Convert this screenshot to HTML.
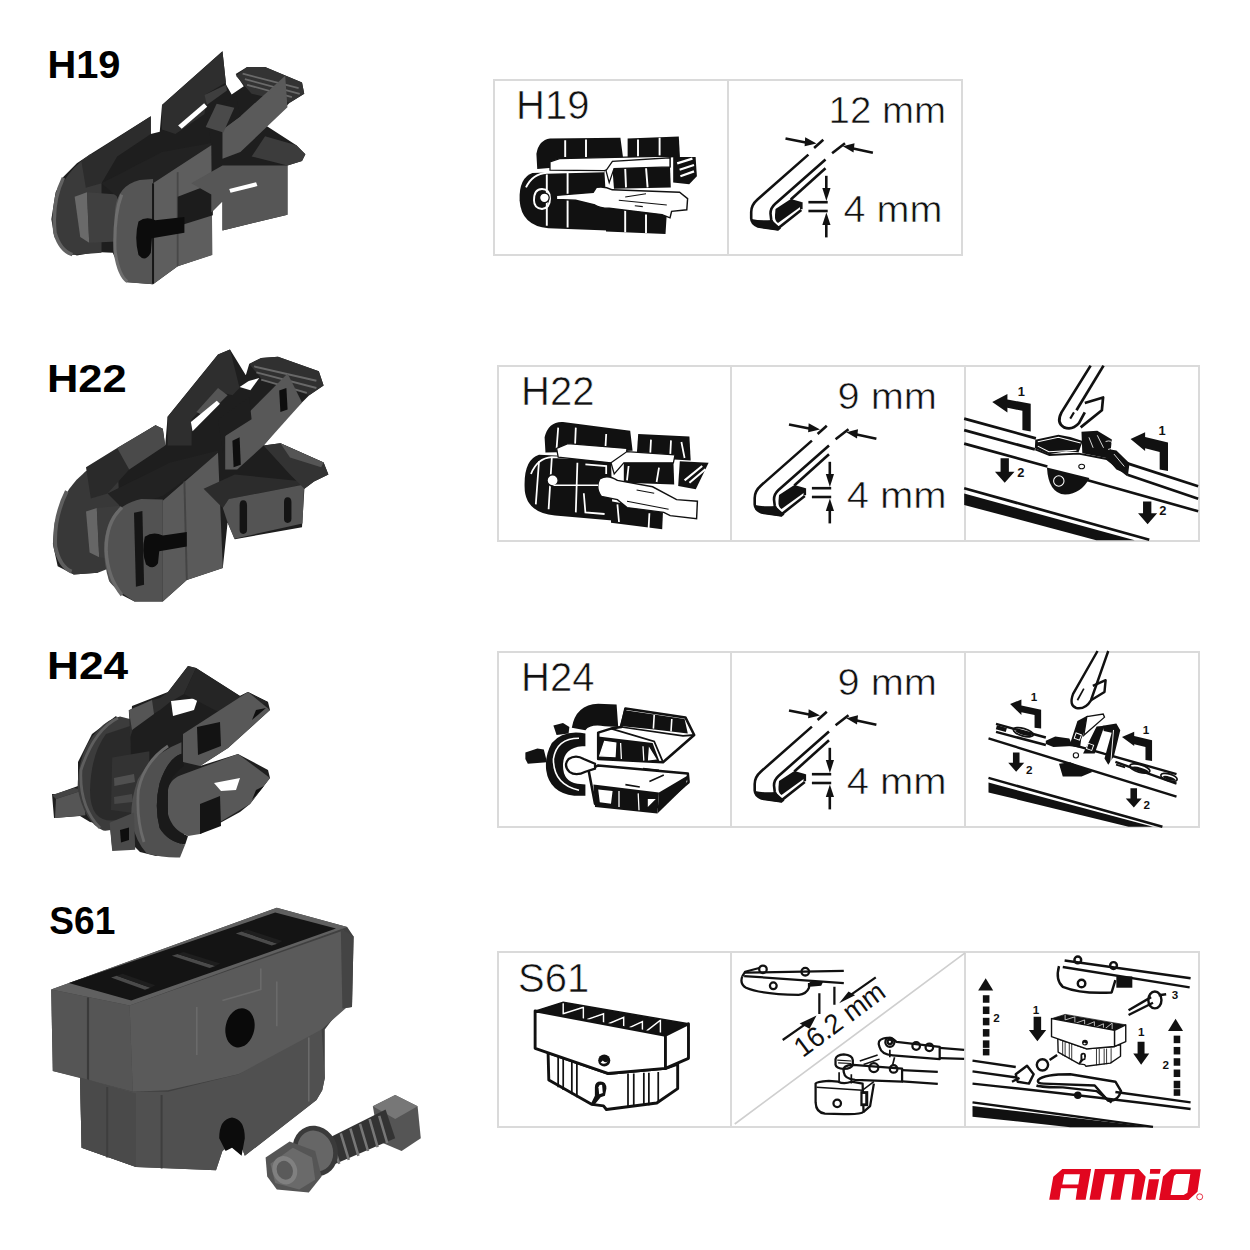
<!DOCTYPE html>
<html><head><meta charset="utf-8">
<style>
html,body{margin:0;padding:0;background:#fff;width:1250px;height:1250px;overflow:hidden}
svg{position:absolute;left:0;top:0;display:block}
text{font-family:"Liberation Sans",sans-serif}
.lbl{font-weight:bold;font-size:39px;fill:#000}
.bt{font-size:40px;fill:#111;stroke:#fff;stroke-width:0.6px}
.mm{font-size:36px;fill:#111;stroke:#fff;stroke-width:0.6px}
.box{fill:none;stroke:#dadada;stroke-width:2}
.ln{fill:none;stroke:#111;stroke-width:2.6;stroke-linecap:butt}
.blk{fill:#111}
</style></head><body>
<svg width="1250" height="1250" viewBox="0 0 1250 1250">
<defs>
<g id="blade">
  <line class="ln" x1="785.5" y1="138.4" x2="807" y2="142.8"/>
  <polygon class="blk" points="805.2,137.3 816.5,143.4 804.6,146.3"/>
  <line class="ln" x1="814.1" y1="148" x2="823.3" y2="139.7"/>
  <line class="ln" x1="832.1" y1="153.3" x2="845" y2="143.2"/>
  <line class="ln" x1="872.9" y1="152.8" x2="852" y2="148.2"/>
  <polygon class="blk" points="854.5,143.2 842.8,146.3 853.5,152.5"/>
  <path class="ln" d="M808.4,154.6 L757.5,199.5 Q751.2,205 751.2,212 L751.2,218.5 Q751.5,224 758,226.5 L778.5,229.5"/>
  <path class="blk" d="M751.5,219 Q752,225 759,227.5 L778.5,230.5 L781,228.5 L771.8,220 Q760,221 751.5,219 Z"/>
  <path class="ln" d="M825.5,159.5 L775,204 Q770.5,208 770.5,213.5 L771.2,219.5 Q773,226.5 779,227.5 L801.3,210"/>
  <line class="ln" x1="825.5" y1="168.3" x2="790.8" y2="199.5"/>
  <path class="blk" d="M775.5,209 L790.8,199 L801.5,202 L801.5,206 L778,223 Q774.5,221 775,215 Z"/>
  <path class="ln" d="M801.3,202.2 L801.3,209.2"/>
  <line class="ln" x1="826.3" y1="175.8" x2="826.3" y2="190"/>
  <polygon class="blk" points="822.3,188 830.5,188 826.4,201"/>
  <line class="ln" x1="808.4" y1="202.2" x2="827.7" y2="202.2"/>
  <line class="ln" x1="808.4" y1="211" x2="827.7" y2="211"/>
  <polygon class="blk" points="822.3,225 830.5,225 826.4,212.5"/>
  <line class="ln" x1="826.3" y1="223" x2="826.3" y2="237.4"/>
</g>
<!-- S61 drawing -->
<g id="s61d">
  <path fill="#111" d="M110,110 L300,50 L440,75 L960,165 L1170,200 L1010,280 L300,175 Z"/>
  <g fill="none" stroke="#fff" stroke-width="10">
    <path d="M300,55 L300,130 L440,85 L440,175 M440,180 L580,130 L580,210 M590,210 L720,155 L720,240 M730,240 L850,185 L850,270 M860,265 L975,175 L975,260"/>
  </g>
  <g fill="#fff" stroke="#111" stroke-width="20" stroke-linejoin="round">
    <path d="M195,400 L200,590 L500,760 L580,770 L600,795 L950,750 L1095,650 L1095,480 L1010,510 L610,545 L195,400 Z"/>
    <path d="M105,110 L1010,280 L1010,510 L610,545 L105,370 Z"/>
    <path d="M1010,280 L1170,200 L1170,440 L1010,510 Z"/>
  </g>
  <path fill="none" stroke="#111" stroke-width="10" d="M110,110 L300,50 L1170,200"/>
  <g fill="none" stroke="#111" stroke-width="12">
    <path d="M265,430 L265,640 M300,440 L300,660 M360,460 L360,690 M395,470 L395,710"/>
    <path d="M750,545 L750,780 M790,545 L790,775 M860,540 L860,770 M895,540 L895,765 M960,535 L960,750"/>
  </g>
  <circle cx="585" cy="455" r="42" fill="#111"/>
  <path fill="#fff" d="M560,470 Q590,490 610,460 Q590,475 575,455 Z"/>
  <path fill="#111" d="M520,640 Q520,600 560,600 Q600,600 600,650 L590,700 L560,710 L510,770 L490,760 L520,700 Z"/>
  <path fill="#fff" d="M545,640 Q550,620 570,625 L575,680 L550,690 Z"/>
</g>
</defs>
<!-- labels -->
<text class="lbl" x="47.4" y="78" textLength="73" lengthAdjust="spacingAndGlyphs">H19</text>
<text class="lbl" x="47" y="392" textLength="79.7" lengthAdjust="spacingAndGlyphs">H22</text>
<text class="lbl" x="47" y="679" textLength="81.1" lengthAdjust="spacingAndGlyphs">H24</text>
<text class="lbl" x="49.3" y="934" textLength="66" lengthAdjust="spacingAndGlyphs">S61</text>

<!-- boxes -->
<g class="box">
<rect x="494" y="80" width="468" height="175"/>
<line x1="728" y1="80" x2="728" y2="255"/>
<rect x="498" y="366" width="701" height="175"/>
<line x1="731" y1="366" x2="731" y2="541"/>
<line x1="965" y1="366" x2="965" y2="541"/>
<rect x="498" y="652" width="701" height="175"/>
<line x1="731" y1="652" x2="731" y2="827"/>
<line x1="965" y1="652" x2="965" y2="827"/>
<rect x="498" y="952" width="701" height="175"/>
<line x1="731" y1="952" x2="731" y2="1127"/>
<line x1="965" y1="952" x2="965" y2="1127"/>
</g>

<!-- box texts -->
<text class="bt" x="516" y="119">H19</text>
<text class="bt" x="521" y="405">H22</text>
<text class="bt" x="521" y="691">H24</text>
<text class="bt" x="518" y="992">S61</text>
<text class="mm" x="828.5" y="123" textLength="117.5" lengthAdjust="spacingAndGlyphs">12 mm</text>
<text class="mm" x="837.5" y="409" textLength="99.5" lengthAdjust="spacingAndGlyphs">9 mm</text>
<text class="mm" x="837.5" y="695" textLength="99.5" lengthAdjust="spacingAndGlyphs">9 mm</text>
<text class="mm" x="843.5" y="222" textLength="99" lengthAdjust="spacingAndGlyphs">4 mm</text>
<text class="mm" x="846.7" y="508" textLength="100" lengthAdjust="spacingAndGlyphs">4 mm</text>
<text class="mm" x="846.7" y="794" textLength="100" lengthAdjust="spacingAndGlyphs">4 mm</text>

<use href="#blade"/>
<use href="#blade" transform="translate(3.5,286)"/>
<use href="#blade" transform="translate(3.5,572)"/>

<!-- CELLS -->
<!-- H22 cell3: zoom origin 960,350 scale 4.808 -->
<g transform="translate(960,350) scale(0.208)">
  <g fill="none" stroke="#111" stroke-width="13" stroke-linejoin="round">
    <!-- arm -->
    <path d="M628,75 L488,300 Q462,350 500,372 Q540,388 572,352 L600,300"/>
    <path d="M690,75 L560,290"/>
    <path d="M530,330 L548,300" stroke-width="10"/>
    <path d="M600,255 L688,228 L682,290 L580,372" />
    <!-- blade lines -->
    <path d="M20,330 L365,425"/>
    <path d="M805,545 L1145,655"/>
    <path d="M20,385 L360,478"/>
    <path d="M805,600 L1145,715"/>
    <path d="M20,450 L420,560"/>
    <path d="M610,625 L1145,775"/>
    <path d="M20,665 L910,912"/>
  </g>
  <polygon fill="#111" points="20,690 840,915 655,915 20,745"/>
  <!-- adapter -->
  <path fill="#111" d="M362,432 L473,407 L530,418 L590,437 L570,492 L510,487 L427,501 L360,472 Z"/>
  <path fill="none" stroke="#fff" stroke-width="5" d="M374,441 L473,420 L580,447 M374,462 L427,489 L560,482"/>
  <path fill="#111" d="M584,393 L660,388 L730,430 L725,478 L752,483 L815,545 L808,598 L752,575 L704,519 L588,496 Z"/>
  <path fill="none" stroke="#fff" stroke-width="4" d="M620,420 L640,470 M660,410 L690,470 M700,440 Q730,430 735,455 Q735,475 712,478 M740,500 L790,560"/>
  <path fill="none" stroke="#111" stroke-width="9" d="M362,478 L430,505 L570,498 L705,524 L805,602"/>
  <path fill="#111" d="M418,565 Q425,690 505,695 Q585,690 622,615 Z"/>
  <circle cx="475" cy="630" r="25" fill="none" stroke="#fff" stroke-width="5"/>
  <ellipse cx="585" cy="560" rx="14" ry="11" fill="#fff" stroke="#111" stroke-width="5"/>
  <!-- arrows -->
  <g fill="#111">
    <polygon points="155,250 228,212 228,238 340,258 340,392 300,385 300,292 228,278 228,300"/>
    <polygon points="195,520 235,520 235,585 262,585 215,638 168,585 195,585"/>
    <polygon points="820,428 890,395 890,418 1000,445 1000,582 960,575 960,490 890,472 890,485"/>
    <polygon points="880,728 920,728 920,785 948,785 902,838 856,785 880,785"/>
  </g>
  <g font-family="Liberation Sans" font-weight="bold" font-size="62" fill="#111">
    <text x="278" y="220">1</text>
    <text x="275" y="610">2</text>
    <text x="955" y="410">1</text>
    <text x="958" y="795">2</text>
  </g>
</g>

<!-- H24 cell3: zoom origin 965,651 scale 5.319 -->
<g transform="translate(965,651) scale(0.188)">
  <g fill="none" stroke="#111" stroke-width="13" stroke-linejoin="round">
    <path d="M705,0 L575,228 Q552,290 592,303 Q640,312 670,262 L762,0"/>
    <path d="M598,262 L632,200" stroke-width="9"/>
    <path d="M670,262 L742,218 L748,155 L680,185"/>
    <path d="M165,388 L430,460 M560,495 L1125,655"/>
    <path d="M165,430 L430,500 M800,590 L1125,705"/>
    <path d="M125,465 L1125,775"/>
    <path d="M125,675 L1050,935"/>
  </g>
  <g fill="none" stroke="#111" stroke-width="9">
    <ellipse cx="310" cy="432" rx="55" ry="20" transform="rotate(16 310 432)"/>
    <ellipse cx="930" cy="625" rx="55" ry="20" transform="rotate(16 930 625)"/>
    <ellipse cx="1085" cy="672" rx="45" ry="18" transform="rotate(16 1085 672)"/>
  </g>
  <g fill="#111">
    <ellipse cx="312" cy="437" rx="45" ry="10" transform="rotate(16 312 437)"/>
    <ellipse cx="932" cy="630" rx="45" ry="10" transform="rotate(16 932 630)"/>
    <ellipse cx="1087" cy="677" rx="35" ry="9" transform="rotate(16 1087 677)"/>
    <rect x="170" y="395" width="55" height="22" transform="rotate(16 170 395)"/>
    <rect x="805" y="600" width="50" height="10" transform="rotate(16 805 600)"/>
    <polygon points="125,700 1000,935 870,935 125,752"/>
    <!-- adapter -->
    <path d="M430,478 L480,455 L555,465 L572,505 L470,510 L430,495 Z"/>
    <path d="M555,505 L598,372 L650,345 L690,352 L650,390 L618,470 L612,515 Z"/>
    <path d="M628,545 L700,402 L742,398 L690,545 Z"/>
    <path d="M732,398 L805,386 L826,422 L792,560 L762,605 L742,572 L780,435 L738,425 Z"/>
    <path d="M500,600 L560,592 L640,628 L680,642 L620,668 L520,668 Z"/>
    <polygon points="240,282 300,258 300,290 405,312 405,412 370,408 370,340 300,326 300,340"/>
    <polygon points="255,540 290,540 290,595 315,595 272,642 230,595 255,595"/>
    <polygon points="835,458 900,430 900,452 995,475 995,585 960,580 960,510 900,496 900,505"/>
    <polygon points="880,730 915,730 915,785 940,785 898,832 855,785 880,785"/>
  </g>
  <path fill="#fff" stroke="#111" stroke-width="7" d="M648,349 L735,335 L742,352 L632,448 Z"/>
  <g fill="none" stroke="#fff" stroke-width="5">
    <rect x="585" y="440" width="30" height="30" transform="rotate(20 600 455)"/>
    <rect x="650" y="495" width="30" height="30" transform="rotate(20 665 510)"/>
    <path d="M760,440 L745,540 M775,600 L790,420"/>
  </g>
  <circle cx="590" cy="555" r="14" fill="#fff" stroke="#111" stroke-width="6"/>
  <g font-family="Liberation Sans" font-weight="bold" font-size="62" fill="#111">
    <text x="350" y="265">1</text>
    <text x="325" y="655">2</text>
    <text x="945" y="440">1</text>
    <text x="950" y="840">2</text>
  </g>
</g>

<!-- S61 cell2: zoom origin 731,952 scale 5.319 -->
<g transform="translate(731,952) scale(0.188)">
  <line x1="20" y1="915" x2="1245" y2="5" stroke="#cfcfcf" stroke-width="9"/>
  <g fill="none" stroke="#111" stroke-width="12" stroke-linejoin="round">
    <path d="M70,110 L600,100"/>
    <path d="M70,128 L600,165"/>
    <path d="M60,130 Q45,170 80,190 Q160,225 360,228 Q400,225 415,190 L415,165"/>
    <path d="M60,130 L75,105 L150,85"/>
    <circle cx="170" cy="92" r="20"/>
    <circle cx="395" cy="105" r="20"/>
    <circle cx="225" cy="180" r="18"/>
    <path d="M470,220 L470,330 M550,185 L550,280"/>
    <path d="M275,468 L430,360 M770,135 L620,240"/>
    <!-- lower linkage -->
    <path d="M790,505 Q775,470 810,460 Q850,450 880,478 L1110,505 L1110,570 L860,550 Q800,545 790,505 Z"/>
    <path d="M1110,510 L1240,520 M1110,565 L1240,568"/>
    <circle cx="845" cy="480" r="24"/>
    <circle cx="845" cy="478" r="12"/>
    <circle cx="985" cy="500" r="20"/>
    <circle cx="1055" cy="507" r="20"/>
    <path d="M845,520 L845,560 M870,560 L860,600" stroke-width="9"/>
    <path d="M600,640 Q590,600 650,600 L910,620 L910,690 L660,680 Q605,675 600,640 Z"/>
    <path d="M910,628 L1100,638 M910,688 L1100,702"/>
    <circle cx="760" cy="615" r="24"/>
    <circle cx="865" cy="622" r="20"/>
    <path d="M685,580 L780,548 M705,598 L790,570" stroke-width="8"/>
    <path d="M556,600 L556,570 Q560,548 600,545 Q645,548 648,575 L648,600 Q640,620 600,622 Q560,620 556,600 Z"/>
    <path d="M575,640 L575,690 M640,650 L640,700" stroke-width="9"/>
    <path d="M450,700 Q455,690 520,685 L570,690 Q600,705 640,690 L700,700 L705,850 Q690,865 600,862 L500,860 Q452,855 450,800 Z"/>
    <path d="M455,720 L700,735 L760,690" stroke-width="8"/>
    <path d="M705,850 L740,820 L760,700"/>
    <circle cx="565" cy="805" r="20"/>
  </g>
  <path fill="none" stroke="#111" stroke-width="6" d="M565,575 L640,580 M570,590 L640,593"/>
  <rect x="688" y="740" width="42" height="80" fill="#111"/>
  <rect x="700" y="755" width="14" height="50" fill="#fff"/>
  <polygon fill="#111" points="365,380 455,338 418,408"/>
  <polygon fill="#111" points="575,272 660,230 625,210"/>
  <path fill="#111" d="M418,160 L490,158 L480,180 L420,185 Z"/>
  <text x="0" y="0" font-family="Liberation Sans" font-size="148" fill="#111" transform="translate(382,565) rotate(-36.5)" textLength="560" lengthAdjust="spacingAndGlyphs">16.2 mm</text>
</g>

<!-- S61 cell3: zoom origin 965,952 scale 5.319 -->
<g transform="translate(965,952) scale(0.188)">
  <g fill="none" stroke="#111" stroke-width="13" stroke-linejoin="round">
    <path d="M530,45 L1200,140"/>
    <path d="M520,80 L1195,188"/>
    <path d="M500,75 Q480,150 520,185 Q620,225 780,215 L800,150"/>
    <circle cx="600" cy="42" r="18"/>
    <circle cx="790" cy="72" r="18"/>
    <circle cx="620" cy="168" r="20"/>
    <!-- blade -->
    <path d="M40,578 L270,612"/>
    <path d="M40,635 L275,668"/>
    <path d="M40,700 Q600,760 1200,835"/>
    <path d="M40,800 L1000,930"/>
    <path d="M800,745 L1200,800"/>
    <!-- screw -->
    <path d="M870,335 L1000,270 M870,310 L990,240"/>
    <ellipse cx="1010" cy="255" rx="35" ry="45"/>
    <path d="M1030,230 L1070,225"/>
    <!-- washer/nut -->
    <circle cx="412" cy="600" r="30"/>
    <path d="M270,650 L330,605 L365,650 L340,700 L280,690 Z"/>
    <path d="M250,690 L290,670 M450,575 L490,548"/>
    <!-- clip -->
    <path d="M390,680 Q420,650 560,650 L800,690 L830,740 Q810,800 760,790 L690,710 L420,700 Q380,700 390,680 Z"/>
    <path d="M380,710 Q410,720 520,720 L700,740 L780,800"/>
  </g>
  <polygon fill="#111" points="40,819 1000,932 560,932 40,876"/>
  <g fill="#111">
    <circle cx="600" cy="762" r="20"/>
    <polygon points="70,205 110,140 150,205"/>
    <rect x="95" y="230" width="35" height="40"/>
    <rect x="95" y="290" width="35" height="40"/>
    <rect x="95" y="350" width="35" height="40"/>
    <rect x="95" y="410" width="35" height="40"/>
    <rect x="95" y="470" width="35" height="40"/>
    <rect x="95" y="515" width="35" height="35"/>
    <polygon points="1080,420 1120,355 1160,420"/>
    <rect x="1110" y="445" width="35" height="40"/>
    <rect x="1110" y="505" width="35" height="40"/>
    <rect x="1110" y="565" width="35" height="40"/>
    <rect x="1110" y="625" width="35" height="40"/>
    <rect x="1110" y="685" width="35" height="40"/>
    <rect x="1110" y="730" width="35" height="35"/>
    <polygon points="365,345 405,345 405,415 432,415 385,475 340,415 365,415"/>
    <polygon points="918,478 955,478 955,540 980,540 937,600 895,540 918,540"/>
    <rect x="805" y="130" width="85" height="60"/>
  </g>
  <g font-family="Liberation Sans" font-weight="bold" font-size="62" fill="#111">
    <text x="360" y="330">1</text>
    <text x="150" y="370">2</text>
    <text x="920" y="445">1</text>
    <text x="1050" y="620">2</text>
    <text x="1100" y="250">3</text>
  </g>
</g>
<!-- H19 cell1: zoom origin 510,125 scale 6.25 -->
<g transform="translate(510,125) scale(0.16)">
  <g fill="#111">
    <path d="M170,270 L165,180 Q180,95 250,85 L690,80 L710,230 L170,275 Z"/>
    <path d="M735,85 L1055,72 L1062,200 L735,215 Z"/>
    <path d="M60,470 Q55,330 140,300 L590,285 L610,660 L240,645 Q70,630 60,470 Z"/>
    <path d="M640,270 L1000,258 L1005,390 L650,398 Z"/>
    <path d="M600,500 L980,550 L972,682 L600,665 Z"/>
    <path d="M1020,200 L1160,200 L1168,320 L1120,370 L1020,360 Z"/>
  </g>
  <g fill="none" stroke="#fff" stroke-width="12">
    <path d="M345,95 L345,200 M475,90 L475,200 M800,90 L800,200 M935,80 L935,190"/>
    <path d="M230,310 L230,630 M360,300 L360,640 M720,270 L725,390 M850,265 L860,390 M720,520 L720,670 M850,560 L850,675"/>
    <path d="M100,390 Q140,305 230,298 L590,290"/>
    <path d="M1045,240 L1140,210 M1060,280 L1150,250 M1065,320 L1150,290" stroke-width="14"/>
  </g>
  <!-- white rail -->
  <path fill="#fff" stroke="#111" stroke-width="8" d="M250,230 L310,210 L1000,195 L1000,262 L640,268 L590,285 L250,282 Z"/>
  <path fill="#fff" stroke="#111" stroke-width="8" d="M600,285 L640,228 L1000,205 L1000,262 L650,272 L620,360 Z"/>
  <!-- slider -->
  <path fill="#fff" stroke="#111" stroke-width="9" d="M290,440 L520,420 L540,390 Q590,380 640,405 L1060,420 L1110,460 L1105,530 L1010,540 L1000,580 L950,560 L620,520 Q560,520 530,500 L410,470 L290,465 Z"/>
  <path fill="none" stroke="#111" stroke-width="7" d="M680,470 L980,500 M720,450 L850,430 M780,505 L830,510"/>
  <path fill="none" stroke="#fff" stroke-width="12" d="M150,470 Q150,400 200,400 Q250,400 250,460 Q250,520 200,525 Q150,520 150,470 Z"/>
  <circle cx="215" cy="455" r="30" fill="#fff" stroke="#111" stroke-width="8"/>
</g>

<!-- H22 cell1: zoom origin 515,410 scale 6.25 -->
<g transform="translate(515,410) scale(0.16)">
  <g fill="#111">
    <path d="M190,260 L185,170 Q210,70 300,75 L720,130 L735,255 L190,265 Z"/>
    <path d="M770,150 L1090,165 L1098,315 L760,295 Z"/>
    <path d="M60,480 Q55,310 150,280 L600,300 L610,690 L250,660 Q60,640 60,480 Z"/>
    <path d="M680,320 L990,315 L995,465 L680,455 Z"/>
    <path d="M600,570 L925,630 L920,745 L600,705 Z"/>
    <path d="M1030,320 L1210,330 L1130,495 L1020,475 Z"/>
  </g>
  <g fill="none" stroke="#fff" stroke-width="11">
    <path d="M270,110 L260,240 M380,110 L375,230 M570,150 L565,240 M850,185 L845,280 M975,190 L970,290 M1040,200 L1060,300"/>
    <path d="M150,320 L130,590 M230,300 L210,620 M390,330 L380,640 M710,350 L700,440 M900,360 L885,450"/>
    <path d="M440,340 L570,350 L570,400 M430,520 L440,640 L560,650"/>
    <path d="M640,590 L650,700 M840,645 L835,740"/>
    <path d="M100,400 Q140,300 230,295 L600,310"/>
    <path d="M1060,440 L1170,350 M1090,455 L1190,370" stroke-width="13"/>
  </g>
  <path fill="#fff" stroke="#111" stroke-width="8" d="M260,240 L330,210 L700,240 L690,325 L600,330 L270,295 Z"/>
  <path fill="#fff" stroke="#111" stroke-width="8" d="M600,330 L700,260 L1000,280 L990,330 L680,330 L620,400 Z"/>
  <path fill="#fff" stroke="#111" stroke-width="9" d="M530,430 Q580,400 640,440 L860,480 L1010,560 L1140,570 L1135,680 L970,660 L930,640 L700,610 L640,560 L540,540 Q500,490 530,430 Z"/>
  <path fill="none" stroke="#111" stroke-width="7" d="M760,500 L870,520 M700,570 L960,620"/>
  <circle cx="235" cy="440" r="35" fill="#fff" stroke="#111" stroke-width="9"/>
  <path fill="none" stroke="#fff" stroke-width="9" d="M240,470 L520,470"/>
</g>

<!-- H24 cell1: zoom origin 515,695 scale 6.25 -->
<g transform="translate(515,695) scale(0.16)">
  <g fill="#111">
    <path d="M355,205 Q380,60 520,55 L635,60 L645,200 L560,195 Q470,180 440,220 Z"/>
    <path d="M65,360 L140,335 L180,340 L200,420 L80,430 L65,400 Z"/>
    <path d="M240,190 L300,175 L340,200 L335,240 L260,250 Z"/>
  </g>
  <!-- upper deck -->
  <path fill="#fff" stroke="#111" stroke-width="16" stroke-linejoin="round" d="M520,235 L600,210 L665,200 L690,85 L1065,140 L1120,250 L925,420 L520,400 Z"/>
  <path fill="none" stroke="#111" stroke-width="11" d="M665,200 L1050,255 L1120,250 M690,85 L660,195 M870,125 L865,210 M980,150 L975,230 M600,210 L870,290 L925,420"/>
  <path fill="#111" d="M690,95 L1060,150 L1080,240 L870,215 L670,195 Z"/>
  <path fill="none" stroke="#fff" stroke-width="10" d="M870,125 L865,210 M980,150 L975,230"/>
  <g fill="#111">
    <path d="M520,260 L860,300 L905,420 L520,400 Z"/>
  </g>
  <path fill="#fff" stroke="#fff" stroke-width="8" d="M530,380 L560,290 L630,300 L625,385 Z M840,335 L880,400 L835,405 Z"/>
  <path fill="none" stroke="#fff" stroke-width="8" d="M660,300 L665,400 M800,320 L805,410"/>
  <!-- lower deck -->
  <path fill="#fff" stroke="#111" stroke-width="16" stroke-linejoin="round" d="M460,470 L520,440 L1080,490 L1085,545 L900,700 L500,680 Z"/>
  <path fill="#111" d="M490,560 L900,610 L890,740 L500,700 Z"/>
  <path fill="#111" d="M900,610 L1085,500 L1060,575 L890,740 Z"/>
  <path fill="#fff" d="M520,590 L610,600 L600,680 L530,670 Z M830,650 L880,650 L830,700 Z"/>
  <path fill="none" stroke="#fff" stroke-width="8" d="M650,600 L650,700 M770,615 L775,720"/>
  <path fill="none" stroke="#111" stroke-width="10" d="M800,460 L900,470 M690,560 L780,575 M840,540 L930,500"/>
  <!-- C ring -->
  <path fill="#111" d="M440,240 Q300,215 230,300 Q185,380 195,470 Q215,610 370,630 L440,630 L440,560 L390,555 Q300,540 300,440 Q300,330 420,320 L440,320 Z"/>
  <path fill="none" stroke="#fff" stroke-width="10" d="M400,270 Q260,270 240,400 Q240,560 400,595"/>
  <path fill="#fff" stroke="#111" stroke-width="14" d="M430,400 Q380,370 335,400 Q300,440 340,480 Q380,510 440,480 L500,460 L500,430 Z"/>
</g>

<use href="#s61d" transform="translate(520,995) scale(0.144)"/>
<use href="#s61d" transform="translate(1044.2,1010.9) scale(0.0697)"/>
<!-- /CELLS -->
<!-- photos -->
<g id="ph19" transform="translate(50,40) scale(0.224)">
  <polygon fill="#1e1e1e" points="6,800 25,680 60,610 120,550 178,511 450,340 450,420 490,410 500,290 770,50 786,200 811,243 865,206 829,152 880,120 960,120 1125,190 1135,240 1070,280 1050,300 960,380 1100,470 1140,510 1125,540 1060,560 1060,780 770,850 770,720 720,770 720,960 570,1010 460,1090 340,1080 280,950 206,946 120,962 60,940 20,880"/>
  <path fill="#3a3a3a" d="M10,800 Q20,620 178,511 L230,500 L230,950 L100,960 Q20,920 10,800 Z"/>
  <path fill="none" stroke="#626262" stroke-width="16" d="M60,615 Q8,720 22,860 Q45,940 100,958"/>
  <polygon fill="#6a6a6a" points="110,700 165,680 175,905 135,880"/>
  <polygon fill="#404040" points="165,680 300,690 300,900 175,905"/>
  <polygon fill="#2c2c2c" points="140,540 450,340 450,420 300,520 230,640 160,660"/>
  <polygon fill="#222" points="230,640 500,500 720,460 720,480 460,640 300,700"/>
  <path fill="#555" d="M290,760 Q300,650 400,625 L460,620 L460,1090 L340,1082 Q285,1010 285,900 Z"/>
  <path fill="none" stroke="#6e6e6e" stroke-width="14" d="M320,690 Q285,780 290,940 Q305,1050 345,1078"/>
  <polygon fill="#5e5e5e" points="460,640 720,470 725,960 570,1010 460,1090"/>
  <path fill="none" stroke="#484848" stroke-width="8" d="M570,590 L570,1010"/>
  <polygon fill="#1c1c1c" points="570,700 727,640 727,782 570,832"/>
  <path fill="none" stroke="#161616" stroke-width="9" d="M460,640 L460,1088"/>
  <path fill="#0c0c0c" d="M395,810 Q375,880 395,960 Q425,995 450,950 L455,885 L600,860 L600,790 L470,805 Q430,785 395,810 Z"/>
  <polygon fill="#2e2e2e" points="500,290 770,50 785,190 700,240 690,330 560,420 500,400"/>
  <polygon fill="#fff" points="572,382 688,282 702,298 588,396"/>
  <polygon fill="#333" points="830,160 880,120 960,120 1125,190 1135,240 1070,280 900,240"/>
  <g stroke="#6a6a6a" stroke-width="8" fill="none"><path d="M860,150 L1110,215 M870,175 L1115,240 M880,200 L1080,255"/></g>
  <polygon fill="#5a5a5a" points="770,400 850,340 1050,160 1060,300 850,500 770,530"/>
  <polygon fill="#1e1e1e" points="700,330 830,250 850,340 770,400 720,470"/>
  <polygon fill="#4a4a4a" points="695,388 744,285 823,303 774,413"/>
  <polygon fill="#3e3e3e" points="690,245 786,200 790,225 700,290"/>
  <polygon fill="#565656" points="630,640 770,560 1060,560 1060,780 770,850 770,720 720,770 720,690"/>
  <polygon fill="#fff" points="800,665 920,635 926,652 806,682"/>
  <polygon fill="#3c3c3c" points="960,430 1100,470 1140,510 1125,540 1060,560 900,520"/>
</g>
<g id="ph22" transform="translate(50,340) scale(0.24)">
  <polygon fill="#1e1e1e" points="46,683 146,550 279,457 440,355 470,370 480,440 490,320 700,60 750,40 830,170 800,200 830,100 880,75 950,70 1120,130 1140,190 1080,230 1050,260 980,330 890,440 960,430 1140,510 1160,560 1100,590 1060,620 1050,780 770,830 740,760 720,950 570,1000 470,1090 352,1090 299,1063 246,1003 239,923 206,937 199,970 99,977 32,943 12,850 20,760"/>
  <path fill="#383838" d="M14,850 Q20,650 146,550 L279,457 L300,930 L199,970 L99,977 Q30,945 14,850 Z"/>
  <path fill="none" stroke="#5e5e5e" stroke-width="16" d="M70,630 Q15,740 22,860 Q40,945 90,965"/>
  <polygon fill="#666" points="150,715 195,700 205,905 165,885"/>
  <polygon fill="#3c3c3c" points="195,700 300,690 300,920 205,905"/>
  <polygon fill="#2a2a2a" points="150,530 280,450 440,355 480,440 330,540 240,640 170,660"/>
  <polygon fill="#4a4a4a" points="280,450 440,355 470,370 480,440 330,540"/>
  <polygon fill="#222" points="240,640 500,510 700,460 700,480 470,650 300,700"/>
  <path fill="#525252" d="M226,843 Q240,730 299,697 Q340,670 380,663 L470,665 L470,1090 L352,1090 Q260,1030 246,1003 Q222,930 226,843 Z"/>
  <path fill="none" stroke="#6a6a6a" stroke-width="14" d="M300,698 Q232,760 234,880 Q240,990 300,1063"/>
  <polygon fill="#5a5a5a" points="470,670 700,470 720,950 570,1000 470,1090"/>
  <path fill="none" stroke="#444" stroke-width="8" d="M560,590 L570,1000"/>
  <polygon fill="#151515" points="350,720 385,712 392,1020 358,1028"/>
  <path fill="#0c0c0c" d="M395,820 Q380,880 400,935 Q430,960 450,930 L455,880 L570,860 L570,800 L470,815 Q430,795 395,820 Z"/>
  <polygon fill="#2e2e2e" points="490,320 700,60 750,40 790,200 760,230 700,215 590,330 590,440 490,440"/>
  <polygon fill="#555" points="700,200 740,230 650,320 610,300"/>
  <polygon fill="#fff" points="587,342 695,253 708,266 594,380"/>
  <polygon fill="#fff" points="790,196 828,171 872,158 835,209"/>
  <polygon fill="#303030" points="830,100 880,75 950,70 1120,130 1140,190 1080,230 880,160"/>
  <g stroke="#686868" stroke-width="8" fill="none"><path d="M850,110 L1110,170 M860,135 L1110,200 M880,165 L1070,220"/></g>
  <polygon fill="#585858" points="730,400 990,140 1050,260 890,440 780,540 730,540"/>
  <polygon fill="#0e0e0e" points="955,210 985,200 990,290 960,300"/>
  <polygon fill="#0e0e0e" points="760,420 790,405 795,520 765,530"/>
  <polygon fill="#1e1e1e" points="700,330 830,240 840,330 730,400 720,470"/>
  <polygon fill="#2c2c2c" points="640,620 770,560 1060,590 1059,602 745,663 720,700"/>
  <polygon fill="#545454" points="745,663 1059,602 1052,765 768,828 740,760 720,700"/>
  <path fill="#141414" d="M790,690 Q790,668 805,668 Q821,668 821,690 L821,790 Q821,808 805,808 Q790,808 790,790 Z"/>
  <path fill="#141414" d="M975,675 Q975,655 990,655 Q1006,655 1006,675 L1006,745 Q1006,762 990,762 Q975,762 975,745 Z"/>
  <polygon fill="#333" points="890,440 960,430 1140,510 1160,560 1100,590 1060,620 1000,560"/>
  <polygon fill="#555" points="960,430 1140,510 1130,530 1000,490"/>
</g>

<g id="ph24" transform="translate(40,650) scale(0.2)">
  <polygon fill="#1e1e1e" points="60,720 70,840 200,830 250,860 350,880 360,980 450,960 500,1010 580,1030 700,1000 720,920 800,920 1000,810 1050,770 1150,640 1140,600 990,520 800,580 940,490 1150,300 1140,260 1040,210 1000,230 780,90 740,80 640,210 460,280 450,420 380,330 260,420 190,560 190,680 80,720"/>
  <polygon fill="#444" points="60,725 170,690 220,700 80,745"/>
  <polygon fill="#555" points="80,745 220,700 227,826 75,840"/>
  <path fill="#3c3c3c" d="M188,690 Q190,500 290,400 Q340,345 400,333 L450,345 L455,830 Q380,910 316,903 Q220,860 188,690 Z"/>
  <path fill="#2a2a2a" d="M250,700 Q255,520 330,420 L450,380 L455,830 Q330,880 280,820 Q250,780 250,700 Z"/>
  <path fill="none" stroke="#5e5e5e" stroke-width="14" d="M390,340 Q270,400 205,600 Q195,780 300,890"/>
  <polygon fill="#333" points="361,538 547,506 547,826 355,800"/>
  <polygon fill="#505050" points="370,640 470,620 475,660 372,680"/>
  <polygon fill="#484848" points="370,735 460,720 465,760 372,770"/>
  <polygon fill="#2e2e2e" points="444,301 560,250 600,240 640,210 740,80 780,90 720,220 650,260 600,300 470,380 451,436"/>
  <polygon fill="#555" points="444,301 560,250 570,320 460,400"/>
  <polygon fill="#fff" points="655,255 790,240 770,300 665,330"/>
  <polygon fill="#252525" points="780,90 1000,230 1040,210 1140,260 950,340 720,220"/>
  <polygon fill="#585858" points="715,420 1040,210 1150,300 940,490 800,580 715,560"/>
  <polygon fill="#131313" points="785,385 900,360 905,480 790,525"/>
  <polygon fill="#0e0e0e" points="1080,300 1130,290 1060,350"/>
  <path fill="#505050" d="M707,461 Q560,520 489,647 Q450,760 457,858 Q480,960 534,1018 Q620,1040 700,1037 L726,973 Q640,960 598,890 Q570,780 598,666 Q640,540 707,519 Z"/>
  <path fill="none" stroke="#6a6a6a" stroke-width="14" d="M640,480 Q520,560 492,700 Q480,840 520,960"/>
  <path fill="#1a1a1a" d="M707,519 Q640,540 598,666 Q570,780 598,890 Q640,960 726,973 L740,930 Q660,900 640,820 Q625,720 660,640 Q700,590 720,580 Z"/>
  <path fill="#585858" d="M640,700 Q650,640 720,620 L990,520 L1150,640 L1050,770 L800,920 L740,930 Q660,900 640,820 Z"/>
  <polygon fill="#fff" points="870,665 1000,640 980,700 905,705"/>
  <polygon fill="#141414" points="800,770 900,730 905,880 800,920"/>
  <polygon fill="#0e0e0e" points="1080,700 1120,680 1060,750"/>
  <polygon fill="#4a4a4a" points="348,864 470,813 476,999 361,1005"/>
  <polygon fill="#0e0e0e" points="400,900 445,888 445,950 405,962"/>
</g>

<g id="ph61" transform="translate(40,895) scale(0.32)">
  <polygon fill="#404040" points="35,295 740,40 960,100 980,130 975,350 940,355 890,420 890,572 882,610 864,641 640,815 620,760 570,800 550,860 300,850 130,790 125,570 40,550"/>
  <polygon fill="#606060" points="35,295 740,40 960,100 280,345"/>
  <polygon fill="#141414" points="90,275 735,55 925,105 285,330"/>
  <g fill="#4a4a4a"><polygon points="222,258 240,252 345,290 328,296"/><polygon points="412,190 430,184 548,222 530,228"/><polygon points="612,120 630,114 742,152 724,158"/></g>
  <g fill="#1e1e1e"><polygon points="240,252 345,290 360,282 258,246"/><polygon points="430,184 548,222 563,214 448,178"/><polygon points="630,114 742,152 757,144 648,108"/></g>
  <polygon fill="#555" points="35,295 280,345 290,615 40,550"/>
  <path fill="none" stroke="#3a3a3a" stroke-width="7" d="M150,320 L150,580"/>
  <polygon fill="#5a5a5a" points="280,345 950,110 960,350 880,420 820,475 620,560 400,610 290,615"/>
  <polygon fill="#444" points="940,105 980,130 975,350 945,355"/>
  <polygon fill="#505050" points="125,570 290,615 400,615 620,560 880,420 890,572 882,610 864,641 640,815 620,760 570,800 550,860 300,850 130,790"/>
  <polygon fill="#4a4a4a" points="125,570 300,620 300,850 130,790"/>
  <path fill="none" stroke="#3e3e3e" stroke-width="6" d="M210,600 L210,820 M380,625 L380,855"/>
  <path fill="none" stroke="#6a6a6a" stroke-width="5" d="M840,445 L840,645"/>
  <path fill="none" stroke="#6a6a6a" stroke-width="5" d="M570,330 L690,295 L690,230 M490,350 L490,500 M740,270 L740,410"/>
  <ellipse cx="625" cy="415" rx="45" ry="62" fill="#0a0a0a" transform="rotate(12 625 415)"/>
  <path fill="#0c0c0c" d="M560,760 Q560,700 600,695 Q640,700 640,760 L630,815 L600,790 L580,800 Z"/>
  <!-- bolt -->
  <polygon fill="#555" points="1040,660 1110,625 1180,660 1190,760 1130,800 1060,770"/>
  <polygon fill="#777" points="1040,660 1110,625 1180,660 1110,700"/>
  <polygon fill="#333" points="880,770 1080,670 1110,760 900,850"/>
  <g stroke="#777" stroke-width="8"><path d="M910,760 L935,840 M940,745 L965,828 M970,730 L995,815 M1000,715 L1025,800 M1030,700 L1055,788 M1060,690 L1085,775"/></g>
  <ellipse cx="860" cy="800" rx="70" ry="80" fill="#3a3a3a" transform="rotate(-20 860 800)"/>
  <ellipse cx="860" cy="800" rx="55" ry="65" fill="#666" transform="rotate(-20 860 800)"/>
  <polygon fill="#555" points="705,820 780,770 860,800 880,880 840,930 740,920 710,880"/>
  <polygon fill="#6a6a6a" points="720,840 790,790 850,820 860,890 810,920 735,900"/>
  <ellipse cx="765" cy="860" rx="38" ry="45" fill="#808080" transform="rotate(-20 765 860)"/>
  <ellipse cx="765" cy="860" rx="25" ry="30" fill="#5a5a5a" transform="rotate(-20 765 860)"/>
</g>

<!-- logo -->
<g fill="#e1061f">
<path fill-rule="evenodd" d="M1049.2,1199.8 L1053.3,1176.7 L1062.3,1169 L1091.1,1169 L1085.6,1199.8 L1075.7,1199.8 L1077.3,1188.2 L1061,1188.2 L1059.4,1199.8 Z M1064.2,1174.2 L1079.9,1174.2 L1078.3,1184.4 L1062.3,1184.4 Z"/>
<path d="M1094.9,1169 L1138.6,1169 L1145.7,1176.7 L1141.2,1199.8 L1131.3,1199.8 L1134.8,1174.2 L1124.9,1174.2 L1120.4,1199.8 L1110.5,1199.8 L1114.6,1174.2 L1105,1174.2 L1100.2,1199.8 L1089.5,1199.8 Z"/>
<path d="M1150.2,1169 L1160.7,1169 L1159.8,1173.8 L1149.8,1173.8 Z M1148.9,1179.3 L1159.1,1179.3 L1155.3,1199.8 L1145.7,1199.8 Z"/>
<path fill-rule="evenodd" d="M1163,1176.4 L1171.1,1169.2 L1200.9,1169.2 L1197.5,1191.8 L1188.4,1199.9 L1159.1,1199.9 Z M1174,1175.9 L1176.2,1174 L1190.3,1174 L1187.4,1192.7 L1183.6,1195.1 L1170.6,1195.1 Z"/>
<circle cx="1199.7" cy="1196.8" r="3" fill="none" stroke="#e1061f" stroke-width="0.8"/>
</g>
</svg>
</body></html>
